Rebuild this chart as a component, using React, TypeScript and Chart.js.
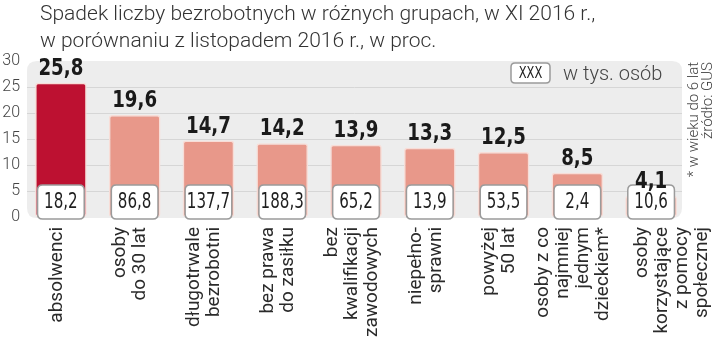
import React, { useEffect, useRef } from "react";
import { Chart, registerables } from "chart.js";

Chart.register(...registerables);

const categories: string[][] = [
  ["absolwenci"],
  ["osoby", "do 30 lat"],
  ["długotrwale", "bezrobotni"],
  ["bez prawa", "do zasiłku"],
  ["bez", "kwalifikacji", "zawodowych"],
  ["niepełno-", "sprawni"],
  ["powyżej", "50 lat"],
  ["osoby z co", "najmniej", "jednym", "dzieckiem*"],
  ["osoby", "korzystające", "z pomocy", "społecznej"],
];
const declinePct = [25.8, 19.6, 14.7, 14.2, 13.9, 13.3, 12.5, 8.5, 4.1];
const thousands = [18.2, 86.8, 137.7, 188.3, 65.2, 13.9, 53.5, 2.4, 10.6];
const yTicks = [0, 5, 10, 15, 20, 25, 30];

const titleLines = [
  "Spadek liczby bezrobotnych w różnych grupach, w XI 2016 r.,",
  "w porównaniu z listopadem 2016 r., w proc.",
];
const legendSample = "XXX";
const legendText = "w tys. osób";
const noteLines = ["* w wieku do 6 lat", "źródło: GUS"];

const COND = '"DejaVu Sans Condensed", "DejaVu Sans", sans-serif';
const SANS = 'Roboto, "Noto Sans", sans-serif';

const fmt = (v: number) => v.toFixed(1).replace(".", ",");

function roundRect(ctx: CanvasRenderingContext2D, x: number, y: number, w: number, h: number, r: number) {
  ctx.beginPath();
  ctx.moveTo(x + r, y);
  ctx.lineTo(x + w - r, y);
  ctx.quadraticCurveTo(x + w, y, x + w, y + r);
  ctx.lineTo(x + w, y + h - r);
  ctx.quadraticCurveTo(x + w, y + h, x + w - r, y + h);
  ctx.lineTo(x + r, y + h);
  ctx.quadraticCurveTo(x, y + h, x, y + h - r);
  ctx.lineTo(x, y + r);
  ctx.quadraticCurveTo(x, y, x + r, y);
  ctx.closePath();
}

function narrowText(ctx: CanvasRenderingContext2D, text: string, x: number, y: number, sx: number) {
  ctx.save();
  ctx.translate(x, y);
  ctx.scale(sx, 1);
  ctx.fillText(text, 0, 0);
  ctx.restore();
}

const decorPlugin = {
  id: "decor",
  beforeDatasetsDraw(chart: any) {
    const { ctx, chartArea } = chart;
    const yScale = chart.scales.y;
    const left = chartArea.left + 3;
    const right = chartArea.right - 6;
    const top = chartArea.top;
    const bottom = chartArea.bottom + 1;
    ctx.save();
    ctx.fillStyle = "#ededed";
    roundRect(ctx, left, top, right - left, bottom - top, 10);
    ctx.fill();
    ctx.strokeStyle = "#d6d6d6";
    ctx.lineWidth = 1;
    for (const t of yScale.ticks) {
      if (t.value <= 0 || t.value >= 30) continue;
      const y = Math.round(yScale.getPixelForValue(t.value)) + 0.5;
      ctx.beginPath();
      ctx.moveTo(left, y);
      ctx.lineTo(right, y);
      ctx.stroke();
    }
    // legend sample box
    const lx = 511, ly = top + 2, lw = 39, lh = 20;
    ctx.fillStyle = "#ffffff";
    ctx.strokeStyle = "#9a9a9a";
    ctx.lineWidth = 1.5;
    roundRect(ctx, lx, ly, lw, lh, 4);
    ctx.fill();
    ctx.stroke();
    ctx.fillStyle = "#222";
    ctx.font = `15px ${COND}`;
    ctx.textAlign = "center";
    ctx.textBaseline = "middle";
    narrowText(ctx, legendSample, lx + lw / 2, ly + lh / 2 + 1, 0.85);
    ctx.restore();
  },
  afterDatasetsDraw(chart: any) {
    const { ctx } = chart;
    const yScale = chart.scales.y;
    const xScale = chart.scales.x;
    const meta = chart.getDatasetMeta(0);
    const zero = yScale.getPixelForValue(0);
    ctx.save();
    meta.data.forEach((bar: any, i: number) => {
      const bx = bar.x;
      const bw = bar.width;
      const boxL = bx - bw / 2 + 2.5;
      const boxR = bx + bw / 2 - 2.5;
      const boxT = zero - 32;
      const boxB = zero + 2;
      ctx.fillStyle = "#ffffff";
      ctx.strokeStyle = "#9b9b9b";
      ctx.lineWidth = 1.5;
      roundRect(ctx, boxL, boxT, boxR - boxL, boxB - boxT, 5);
      ctx.fill();
      ctx.stroke();
      ctx.fillStyle = "#1e1e1e";
      ctx.font = `21px ${COND}`;
      ctx.textAlign = "center";
      ctx.textBaseline = "middle";
      narrowText(ctx, fmt(thousands[i]), bx, (boxT + boxB) / 2 + 1, 0.8);

      ctx.font = `bold 23px ${COND}`;
      ctx.textBaseline = "alphabetic";
      ctx.fillStyle = "#1a1a1a";
      narrowText(ctx, fmt(declinePct[i]), bx, bar.y - 8, 0.88);
    });

    // category labels, rotated
    ctx.fillStyle = "#2a2a2a";
    ctx.font = `19px ${SANS}`;
    ctx.textAlign = "right";
    ctx.textBaseline = "middle";
    const lh = 20;
    const n = categories.length;
    categories.forEach((lines, i) => {
      const shift = i === n - 1 ? 21 : -4;
      const cx = xScale.getPixelForValue(i) + shift;
      const k = lines.length;
      lines.forEach((line, j) => {
        const x = cx + (j - (k - 1) / 2) * lh;
        ctx.save();
        ctx.translate(x, zero + 10);
        ctx.rotate(-Math.PI / 2);
        ctx.fillText(line, 0, 0);
        ctx.restore();
      });
    });
    ctx.restore();
  },
};

export default function App() {
  const canvasRef = useRef<HTMLCanvasElement | null>(null);

  useEffect(() => {
    const canvas = canvasRef.current;
    if (!canvas) return;
    const chart = new Chart(canvas, {
      type: "bar",
      data: {
        labels: categories.map((c) => c.join(" ")),
        datasets: [
          {
            data: declinePct,
            backgroundColor: declinePct.map((_, i) => (i === 0 ? "#bd1131" : "#e8988a")),
            borderColor: "#f8ddd7",
            borderWidth: 1.5,
            borderRadius: 3,
            borderSkipped: false,
            barPercentage: 0.7,
            categoryPercentage: 1,
          },
        ],
      },
      options: {
        animation: false,
        responsive: false,
        maintainAspectRatio: false,
        layout: { padding: { top: 61, right: 32, left: 0, bottom: 0 } },
        plugins: {
          legend: { display: false },
          tooltip: { enabled: false },
          title: { display: false },
        },
        scales: {
          x: {
            grid: { display: false },
            border: { display: false },
            ticks: { display: false },
            afterFit: (s: any) => {
              s.height = 134;
            },
          },
          y: {
            min: 0,
            max: 30,
            afterBuildTicks: (s: any) => {
              s.ticks = yTicks.map((v) => ({ value: v }));
            },
            grid: { display: false, drawTicks: false, tickLength: 0 },
            border: { display: false },
            ticks: {
              padding: 4,
              color: "#444",
              font: { family: SANS, size: 16, weight: "300" },
            },
            afterFit: (s: any) => {
              s.width = 24;
            },
          },
        },
      },
      plugins: [decorPlugin],
    } as any);
    return () => chart.destroy();
  }, []);

  return (
    <div style={{ position: "absolute", left: 0, top: 0, width: 720, height: 351, background: "#fff", overflow: "hidden" }}>
      <canvas ref={canvasRef} width={720} height={351} style={{ position: "absolute", left: 0, top: 0 }} />
      <div
        style={{
          position: "absolute",
          left: 40,
          top: 0,
          fontFamily: SANS,
          fontWeight: 300,
          fontSize: 21,
          lineHeight: "27px",
          color: "#333",
          whiteSpace: "nowrap",
        }}
      >
        {titleLines.map((t) => (
          <div key={t}>{t}</div>
        ))}
      </div>
      <div
        style={{
          position: "absolute",
          left: 563,
          top: 61,
          fontFamily: SANS,
          fontWeight: 300,
          fontSize: 20,
          lineHeight: "24px",
          color: "#444",
          whiteSpace: "nowrap",
        }}
      >
        {legendText}
      </div>
      <div
        style={{
          position: "absolute",
          left: 686,
          top: 62 + 130,
          width: 130,
          transformOrigin: "0 0",
          transform: "rotate(-90deg)",
          textAlign: "right",
          fontFamily: SANS,
          fontWeight: 300,
          fontSize: 15,
          lineHeight: "14px",
          color: "#444",
          whiteSpace: "nowrap",
        }}
      >
        {noteLines.map((t) => (
          <div key={t}>{t}</div>
        ))}
      </div>
    </div>
  );
}
